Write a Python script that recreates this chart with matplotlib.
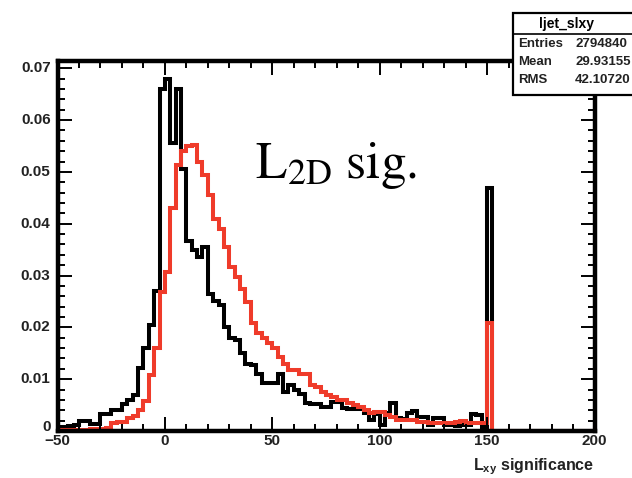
import numpy as np
import matplotlib
matplotlib.use("Agg")
import matplotlib.pyplot as plt
from matplotlib.ticker import MultipleLocator, NullFormatter
from matplotlib.patches import Rectangle
from matplotlib.lines import Line2D

plt.rcParams['font.family'] = ['Liberation Sans', 'DejaVu Sans']

# histogram binning: 100 bins from -50 to 200
x_lo, x_hi, n_bins = -50.0, 200.0, 100

# normalised bin contents, bins -50 ... 150 (the rest are empty)
sig_black = [
    0.0008, 0.0008, 0.0010, 0.0012, 0.0020, 0.0020, 0.0013, 0.0013, 0.0033, 0.0033,
    0.0040, 0.0040, 0.0053, 0.0060, 0.0070, 0.0121, 0.0160, 0.0204, 0.0270, 0.0660,
    0.0680, 0.0556, 0.0660, 0.0505, 0.0366, 0.0350, 0.0335, 0.0355, 0.0265, 0.0250,
    0.0243, 0.0200, 0.0180, 0.0175, 0.0150, 0.0130, 0.0128, 0.0110, 0.0093, 0.0093,
    0.0093, 0.0110, 0.0075, 0.0088, 0.0079, 0.0072, 0.0055, 0.0052, 0.0052, 0.0047,
    0.0047, 0.0056, 0.0056, 0.0045, 0.0043, 0.0043, 0.0043, 0.0035, 0.0022, 0.0033,
    0.0012, 0.0035, 0.0055, 0.0025, 0.0023, 0.0035, 0.0038, 0.0027, 0.0027, 0.0012,
    0.0026, 0.0025, 0.0012, 0.0012, 0.0010, 0.0012, 0.0012, 0.0032, 0.0030, 0.0008,
    0.0469,
]
sig_red = [
    0.0002, 0.0002, 0.0002, 0.0002, 0.0002, 0.0002, 0.0003, 0.0004, 0.0004, 0.0006,
    0.0015, 0.0017, 0.0017, 0.0026, 0.0028, 0.0040, 0.0058, 0.0108, 0.0160, 0.0268,
    0.0307, 0.0430, 0.0513, 0.0540, 0.0550, 0.0552, 0.0519, 0.0494, 0.0455, 0.0410,
    0.0390, 0.0355, 0.0316, 0.0297, 0.0275, 0.0249, 0.0208, 0.0190, 0.0180, 0.0170,
    0.0160, 0.0143, 0.0130, 0.0118, 0.0118, 0.0110, 0.0110, 0.0089, 0.0085, 0.0075,
    0.0070, 0.0066, 0.0060, 0.0060, 0.0054, 0.0050, 0.0046, 0.0040, 0.0035, 0.0037,
    0.0037, 0.0030, 0.0027, 0.0021, 0.0021, 0.0021, 0.0021, 0.0017, 0.0017, 0.0015,
    0.0015, 0.0015, 0.0015, 0.0015, 0.0017, 0.0019, 0.0015, 0.0015, 0.0015, 0.0015,
    0.0208,
]

y_ticks = [0.0, 0.01, 0.02, 0.03, 0.04, 0.05, 0.06, 0.07]
y_tick_labels = ["0", "0.01", "0.02", "0.03", "0.04", "0.05", "0.06", "0.07"]

stat_title = "ljet_slxy"
stat_names = ["Entries", "Mean", "RMS"]
stat_values = ["2794840", "29.93155", "42.10720"]

edges = np.linspace(x_lo, x_hi, n_bins + 1)
h_black = np.zeros(n_bins)
h_black[:len(sig_black)] = sig_black
h_red = np.zeros(n_bins)
h_red[:len(sig_red)] = sig_red

W, H = 632, 478
fig = plt.figure(figsize=(W / 100, H / 100), dpi=100)
ax = fig.add_axes([57.5 / W, 1 - 431 / H, (594.5 - 57.5) / W, (431 - 60.5) / H])

ax.stairs(h_black, edges, color='black', lw=2.9)
ax.stairs(h_red, edges, color='#ef3b2a', lw=2.9)

ax.set_xlim(x_lo, x_hi)
ax.set_ylim(0, 0.0715)

ax.xaxis.set_major_locator(MultipleLocator(50))
ax.xaxis.set_minor_locator(MultipleLocator(10))
ax.set_yticks(y_ticks)
ax.yaxis.set_minor_locator(MultipleLocator(0.002))
ax.yaxis.set_major_formatter(NullFormatter())
ax.tick_params(which='both', direction='in', top=True, right=True, width=1.4, color='black')
ax.tick_params(which='major', length=10)
ax.tick_params(which='minor', length=5)
ax.tick_params(axis='x', labelsize=11, pad=2)
for lab in ax.get_xticklabels():
    lab.set_fontweight('bold')
    lab.set_color('#222222')
for sp in ax.spines.values():
    sp.set_linewidth(3.2)

# y tick labels, the zero label sits a little above the x labels
for v, s in zip(y_ticks, y_tick_labels):
    dy = 0.0007 if v == 0 else 0.0
    ax.text(-0.013, v + dy, s, transform=ax.get_yaxis_transform(), ha='right',
            va='center', fontsize=11, fontweight='bold', color='#222222')

ax.text(1.0, -0.068, r'L$_{\mathregular{xy}}$ significance', transform=ax.transAxes,
        ha='right', va='top', fontsize=11.5, fontweight='bold', color='#222222')

ax.text(0.367, 0.683, r'$\mathrm{L_{2D}\ sig.}$', transform=ax.transAxes,
        fontsize=37, math_fontfamily='stix', ha='left', va='baseline')

# statistics box
def px(x, y):
    return x / W, 1 - y / H

bx0, by0 = px(513, 95)
box = Rectangle((bx0, by0), (640 - 513) / W, (95 - 13) / H, transform=fig.transFigure,
                facecolor='white', edgecolor='black', lw=1.6, zorder=5)
fig.add_artist(box)
fig.add_artist(Line2D([513 / W, 640 / W], [1 - 34 / H] * 2, transform=fig.transFigure,
                      color='black', lw=1.2, zorder=6))
fig.text(*px(566, 24), stat_title, ha='center', va='center', fontsize=10,
         fontweight='bold', zorder=7)
for i, (name, val) in enumerate(zip(stat_names, stat_values)):
    yy = 44 + 18 * i
    fig.text(*px(518, yy), name, ha='left', va='center', fontsize=9.5,
             fontweight='bold', color='#222222', zorder=7)
    fig.text(*px(575, yy), val, ha='left', va='center', fontsize=9.5,
             fontweight='bold', color='#222222', zorder=7)

fig.savefig('out.png', dpi=100)
